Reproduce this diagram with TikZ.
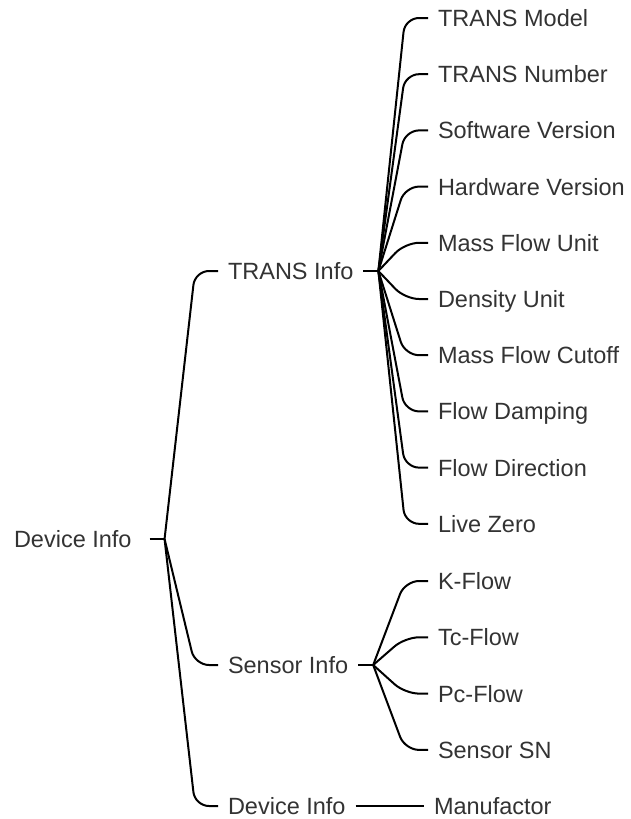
\documentclass[tikz,border=0pt]{standalone}
\usepackage{fontspec}
\setmainfont{Liberation Sans}
\usetikzlibrary{calc,positioning}

\begin{document}
\begin{tikzpicture}[x=1pt,y=-1pt,line width=2pt,
    txt/.style={anchor=west,inner xsep=9pt,inner ysep=0pt,text=black!80,
                font=\fontsize{23.5}{28}\selectfont,text height=17pt,text depth=0pt},
    stub/.style={draw=black,line width=2pt},
    link/.style={draw=black,line width=2pt,rounded corners=14pt}]

    \useasboundingbox (0,0) rectangle (630,819);

    % root
    \node[txt,inner xsep=17pt] (dev) at (-4,539) {Device Info};
    \draw[stub] (dev.east) -- ++(15,0) coordinate (devb);

    % first level
    \node[txt] (trans) at (218,271) {TRANS Info};
    \node[txt] (sens)  at (218,665) {Sensor Info};
    \node[txt] (info)  at (218,806) {Device Info};

    \foreach \n in {trans,sens,info}{
      \draw[link] (devb) -- ($(\n.west)+(-23,0)$) -- (\n.west);
    }

    % TRANS Info
    \draw[stub] (trans.east) -- ++(15,0) coordinate (transb);
    \foreach \lbl [count=\i] in {TRANS Model,TRANS Number,Software Version,Hardware Version,
        Mass Flow Unit,Density Unit,Mass Flow Cutoff,Flow Damping,Flow Direction,Live Zero}{
      \node[txt] (t\i) at (428,{18+56.2*(\i-1)}) {\lbl};
      \draw[link] (transb) -- ($(t\i.west)+(-23,0)$) -- (t\i.west);
    }

    % Sensor Info
    \draw[stub] (sens.east) -- ++(15,0) coordinate (sensb);
    \foreach \lbl [count=\i] in {K-Flow,Tc-Flow,Pc-Flow,Sensor SN}{
      \node[txt] (s\i) at (428,{581+56.3*(\i-1)}) {\lbl};
      \draw[link] (sensb) -- ($(s\i.west)+(-23,0)$) -- (s\i.west);
    }

    % Device Info
    \node[txt] (manu) at (424,806) {Manufactor};
    \draw[stub] (info.east) -- (manu.west);

\end{tikzpicture}
\end{document}
